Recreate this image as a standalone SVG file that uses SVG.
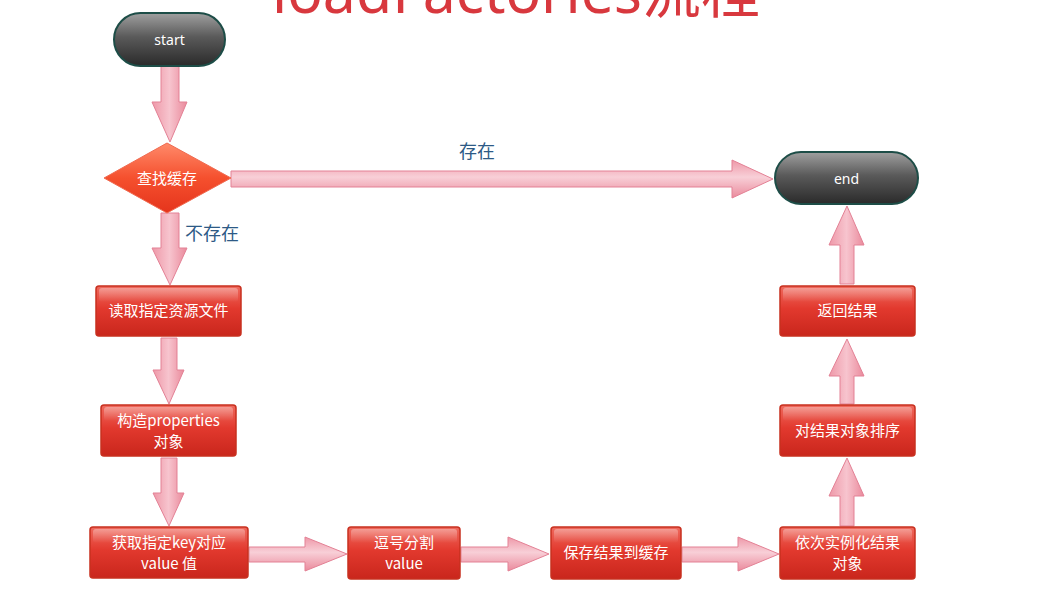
<svg xmlns="http://www.w3.org/2000/svg" width="1049" height="615" viewBox="0 0 1049 615">
<defs>
<linearGradient id="boxGrad" x1="0" y1="0" x2="0" y2="1">
<stop offset="0" stop-color="#ef6a5e"/>
<stop offset="0.45" stop-color="#e2392e"/>
<stop offset="1" stop-color="#c9261c"/>
</linearGradient>
<linearGradient id="hlGrad" x1="0" y1="0" x2="0" y2="1">
<stop offset="0" stop-color="#ffffff" stop-opacity="0.35"/>
<stop offset="1" stop-color="#ffffff" stop-opacity="0"/>
</linearGradient>
<linearGradient id="pillGrad" x1="0" y1="0" x2="0" y2="1">
<stop offset="0" stop-color="#a0a0a0"/>
<stop offset="0.45" stop-color="#5a5a5a"/>
<stop offset="1" stop-color="#2a2a2a"/>
</linearGradient>
<linearGradient id="diaGrad" x1="0" y1="0" x2="0" y2="1">
<stop offset="0" stop-color="#ff8a6a"/>
<stop offset="0.5" stop-color="#f5502e"/>
<stop offset="1" stop-color="#e5341c"/>
</linearGradient>
<linearGradient id="arrV" x1="0" y1="0" x2="1" y2="0">
<stop offset="0" stop-color="#ee98a8"/>
<stop offset="0.5" stop-color="#f7c4ce"/>
<stop offset="1" stop-color="#ea8a9c"/>
</linearGradient>
<linearGradient id="arrH" x1="0" y1="0" x2="0" y2="1">
<stop offset="0" stop-color="#ee98a8"/>
<stop offset="0.45" stop-color="#f8cfd7"/>
<stop offset="1" stop-color="#ea8a9c"/>
</linearGradient>
</defs>
<style>
.box{fill:url(#boxGrad);stroke:#c8301f;stroke-width:1.5}
.hl{fill:url(#hlGrad)}
.pill{fill:url(#pillGrad);stroke:#1d4d47;stroke-width:2}
.av{fill:url(#arrV);stroke:#e38195;stroke-width:1}
.ah{fill:url(#arrH);stroke:#e38195;stroke-width:1}
.t{font-family:"Noto Sans CJK SC","Noto Sans",sans-serif;font-size:15px;fill:#ffffff;text-anchor:middle}
.lbl{font-family:"Noto Sans CJK SC",sans-serif;font-size:18px;fill:#2d5a86}
</style>
<text x="272" y="13" font-family="'Noto Sans','Noto Sans CJK SC',sans-serif" font-size="60" fill="#d8383e" textLength="488" lengthAdjust="spacingAndGlyphs">loadFactories流程</text>

<g id="connectors">
<path class="av" d="M161,66 H179 V102 H187 L170,142 L152,102 H161 Z"/>
<path class="av" d="M161,213 H179 V248 H187 L170,285 L152,248 H161 Z"/>
<path class="av" d="M161,338 H177 V370 H184 L169,404 L153,370 H161 Z"/>
<path class="av" d="M161,458 H177 V493 H184 L169,526 L153,493 H161 Z"/>
<path class="ah" d="M249,547 V562 H305 V571 L347,554 L305,537 V547 Z"/>
<path class="ah" d="M461,547 V562 H508 V571 L549,554 L508,537 V547 Z"/>
<path class="ah" d="M682,547 V562 H738 V571 L779,554 L738,537 V547 Z"/>
<path class="av" d="M840,526 H854 V496 H864 L847,458 L829,496 H840 Z"/>
<path class="av" d="M840,404 H854 V376 H864 L847,339 L829,376 H840 Z"/>
<path class="av" d="M840,284 H854 V245 H864 L847,206 L829,245 H840 Z"/>
<path class="ah" d="M231,171 V187 H732 V198 L773,179 L732,160 V171 Z"/>
<text class="lbl" x="459" y="158">存在</text>
<text class="lbl" x="185" y="240">不存在</text>
</g>

<g id="start">
<rect class="pill" x="114" y="13" width="111" height="53" rx="26.5"/>
<text x="169.5" y="45" font-family="'Noto Sans',sans-serif" font-size="14" fill="#ffffff" text-anchor="middle">start</text>
</g>

<g id="check">
<path d="M104,178 L167,143 L231,178 L167,213 Z" fill="url(#diaGrad)" stroke="#f06a50" stroke-width="1"/>
<text class="t" x="167" y="183.5">查找缓存</text>
</g>

<g id="end">
<rect class="pill" x="775" y="152" width="143" height="52" rx="26"/>
<text x="846.5" y="184" font-family="'Noto Sans',sans-serif" font-size="14" fill="#ffffff" text-anchor="middle">end</text>
</g>

<g id="read">
<rect class="box" x="96" y="286" width="145" height="50" rx="3"/>
<rect class="hl" x="99" y="288" width="139" height="14" rx="3"/>
<text class="t" x="168.5" y="316">读取指定资源文件</text>
</g>

<g id="construct">
<rect class="box" x="101" y="405" width="135" height="51" rx="3"/>
<rect class="hl" x="104" y="407" width="129" height="14" rx="3"/>
<text class="t" x="168.5" y="426">构造properties</text>
<text class="t" x="168.5" y="447">对象</text>
</g>

<g id="getvalue">
<rect class="box" x="90" y="527" width="158" height="51" rx="3"/>
<rect class="hl" x="93" y="529" width="152" height="14" rx="3"/>
<text class="t" x="169" y="548">获取指定key对应</text>
<text class="t" x="169" y="569">value 值</text>
</g>

<g id="split">
<rect class="box" x="348" y="527" width="112" height="52" rx="3"/>
<rect class="hl" x="351" y="529" width="106" height="14" rx="3"/>
<text class="t" x="404" y="548">逗号分割</text>
<text class="t" x="404" y="569">value</text>
</g>

<g id="save">
<rect class="box" x="551" y="527" width="130" height="52" rx="3"/>
<rect class="hl" x="554" y="529" width="124" height="14" rx="3"/>
<text class="t" x="616" y="558">保存结果到缓存</text>
</g>

<g id="instantiate">
<rect class="box" x="780" y="527" width="135" height="52" rx="3"/>
<rect class="hl" x="783" y="529" width="129" height="14" rx="3"/>
<text class="t" x="847.5" y="548">依次实例化结果</text>
<text class="t" x="847.5" y="569">对象</text>
</g>

<g id="sort">
<rect class="box" x="780" y="405" width="135" height="51" rx="3"/>
<rect class="hl" x="783" y="407" width="129" height="14" rx="3"/>
<text class="t" x="847.5" y="436">对结果对象排序</text>
</g>

<g id="return">
<rect class="box" x="780" y="286" width="135" height="50" rx="3"/>
<rect class="hl" x="783" y="288" width="129" height="14" rx="3"/>
<text class="t" x="847.5" y="316">返回结果</text>
</g>
</svg>
